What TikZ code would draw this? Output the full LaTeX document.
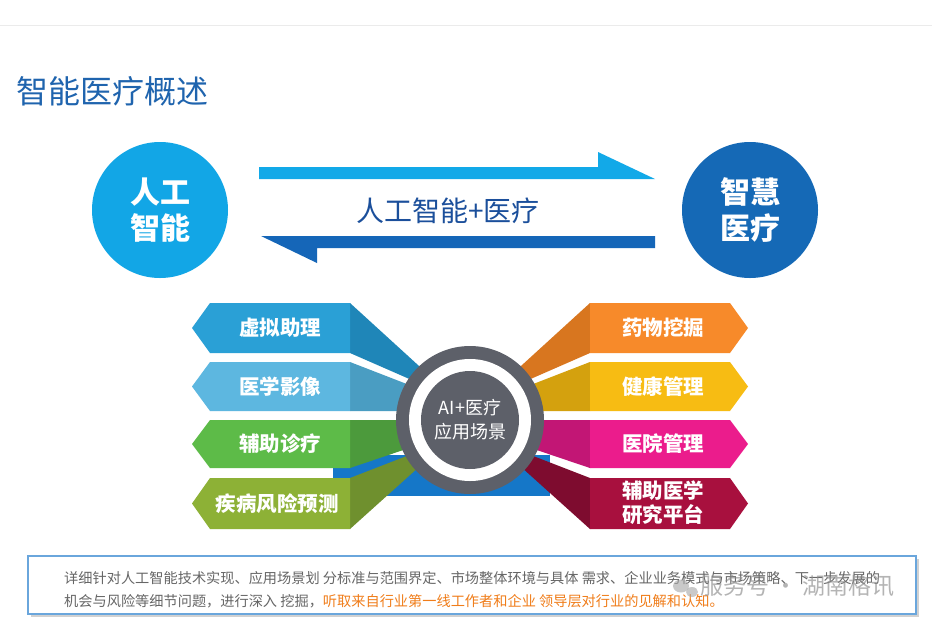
\documentclass[tikz,border=0pt]{standalone}
\usepackage{fontspec}
\setmainfont{Noto Sans CJK SC}
\definecolor{titleblue}{HTML}{1F64AE}
\definecolor{lcirc}{HTML}{12A6E6}
\definecolor{rcirc}{HTML}{1569B6}
\definecolor{arrA}{HTML}{12A9E8}
\definecolor{arrB}{HTML}{1566B8}
\definecolor{midtxt}{HTML}{1B4F9B}
\definecolor{hubgray}{HTML}{5D6069}
\definecolor{rectblue}{HTML}{1577C8}
\definecolor{cA}{HTML}{2AA0D6}\definecolor{dA}{HTML}{1F86B8}
\definecolor{cB}{HTML}{5DB7E0}\definecolor{dB}{HTML}{4A9DC2}
\definecolor{cC}{HTML}{5DBB48}\definecolor{dC}{HTML}{4C9A3C}
\definecolor{cD}{HTML}{8DB136}\definecolor{dD}{HTML}{6F902E}
\definecolor{cE}{HTML}{F78A2A}\definecolor{dE}{HTML}{D8761F}
\definecolor{cF}{HTML}{F7BC13}\definecolor{dF}{HTML}{D4A10E}
\definecolor{cG}{HTML}{EB1C8C}\definecolor{dG}{HTML}{C21675}
\definecolor{cH}{HTML}{A8103E}\definecolor{dH}{HTML}{7E0C2F}
\definecolor{boxblue}{HTML}{6AA6DC}
\definecolor{txtgray}{HTML}{666666}
\definecolor{txtorange}{HTML}{F07D1A}
\tikzset{
  labeltxt/.style={text=white,font=\bfseries\fontsize{20.5}{24}\selectfont,align=center,inner sep=0pt},
  circtxt/.style={text=white,font=\bfseries\fontsize{30}{36}\selectfont,align=center,inner sep=0pt},
  bodytxt/.style={anchor=west,text=txtgray,font=\fontsize{14.2}{14}\selectfont,inner sep=0pt}
}
\begin{document}
\begin{tikzpicture}[x=1pt,y=-1pt]
\useasboundingbox (0,0) rectangle (932,622);
\fill[white] (0,0) rectangle (932,622);
\draw[black!8] (0,25) -- (932,25);
% title
\node[anchor=west,text=titleblue,font=\fontsize{32}{32}\selectfont,inner sep=0pt] (title) at (16,91) {智能医疗概述};
% circles
\node[circle,fill=lcirc,minimum size=136pt,inner sep=0pt] (ai) at (160,210) {};
\node[circtxt] (aitxt) at (ai) {人工\\智能};
\node[circle,fill=rcirc,minimum size=136pt,inner sep=0pt] (sm) at (750,210) {};
\node[circtxt] (smtxt) at (sm) {智慧\\医疗};
% arrows
\fill[arrA] (259,167) -- (598,167) -- (598,152) -- (655,179) -- (259,179) -- cycle;
\fill[arrB] (261,236) -- (655,236) -- (655,248) -- (317,248) -- (317,263) -- cycle;
\node[text=midtxt,font=\fontsize{28}{28}\selectfont,inner sep=0pt] (mid) at (448,211) {人工智能+医疗};
% blue rectangle behind
\fill[rectblue] (333,455) rectangle (550,496);
% left ribbons
\fill[dA] (350,303) -- (430,376) -- (430,388) -- (350,353) -- cycle;
\fill[dB] (350,362) -- (430,393) -- (430,411) -- (350,411) -- cycle;
\fill[dC] (350,420) -- (430,420) -- (430,441) -- (350,468) -- cycle;
\fill[dD] (350,478) -- (430,447) -- (430,457) -- (350,529) -- cycle;
% right ribbons
\fill[dE] (590,303) -- (510,376) -- (510,388) -- (590,353) -- cycle;
\fill[dF] (590,362) -- (510,393) -- (510,411) -- (590,411) -- cycle;
\fill[dG] (590,420) -- (510,420) -- (510,441) -- (590,468) -- cycle;
\fill[dH] (590,478) -- (510,447) -- (510,457) -- (590,529) -- cycle;
% left boxes
\fill[cA] (192,328) -- (210,303) -- (350,303) -- (350,353) -- (210,353) -- cycle;
\fill[cB] (192,386.5) -- (210,362) -- (350,362) -- (350,411) -- (210,411) -- cycle;
\fill[cC] (192,444) -- (210,420) -- (350,420) -- (350,468) -- (210,468) -- cycle;
\fill[cD] (192,503.5) -- (210,478) -- (350,478) -- (350,529) -- (210,529) -- cycle;
% right boxes
\fill[cE] (748,328) -- (730,303) -- (590,303) -- (590,353) -- (730,353) -- cycle;
\fill[cF] (748,386.5) -- (730,362) -- (590,362) -- (590,411) -- (730,411) -- cycle;
\fill[cG] (748,444) -- (730,420) -- (590,420) -- (590,468) -- (730,468) -- cycle;
\fill[cH] (748,503.5) -- (730,478) -- (590,478) -- (590,529) -- (730,529) -- cycle;
% labels
\node[labeltxt] (l1) at (280,328) {虚拟助理};
\node[labeltxt] (l2) at (280,386.5) {医学影像};
\node[labeltxt] (l3) at (280,444) {辅助诊疗};
\node[labeltxt] (l4) at (277,503.5) {疾病风险预测};
\node[labeltxt] (r1) at (663,328) {药物挖掘};
\node[labeltxt] (r2) at (663,386.5) {健康管理};
\node[labeltxt] (r3) at (663,444) {医院管理};
\node[labeltxt] (r4) at (663,503) {辅助医学\\研究平台};
% hub
\node[circle,fill=hubgray,minimum size=148pt,inner sep=0pt] (hub) at (470,420) {};
\node[circle,fill=white,minimum size=122pt,inner sep=0pt] (hubw) at (hub) {};
\node[circle,fill=hubgray,minimum size=98pt,inner sep=0pt] (hubin) at (hub) {};
\node[text=white,font=\fontsize{18}{24}\selectfont,align=center,inner sep=0pt] (hubtxt) at (hub) {AI+医疗\\应用场景};
% bottom box
\fill[black!18] (31,559) rectangle (919,617);
\node[draw=boxblue,line width=2.5pt,fill=white,minimum width=888pt,minimum height=58pt,inner sep=0pt] (note) at (472,585) {};
\node[bodytxt] (n1) at (64,578) {详细针对人工智能技术实现、应用场景划 分标准与范围界定、市场整体环境与具体 需求、企业业务模式与市场策略、下一步发展的};
\node[bodytxt] (n2) at (64,601) {机会与风险等细节问题，进行深入 挖掘，\textcolor{txtorange}{听取来自行业第一线工作者和企业 领导层对行业的见解和认知。}};
% watermark
\fill[black!35,opacity=0.6] (681,586) ellipse (8pt and 6.5pt);
\fill[black!35,opacity=0.6] (692,592) ellipse (6pt and 5pt);
\node[anchor=west,text=black!45,opacity=0.65,font=\fontsize{23}{23}\selectfont,inner sep=0pt] (wm) at (700,586) {服务号 · 湖南格讯};
\end{tikzpicture}
\end{document}
